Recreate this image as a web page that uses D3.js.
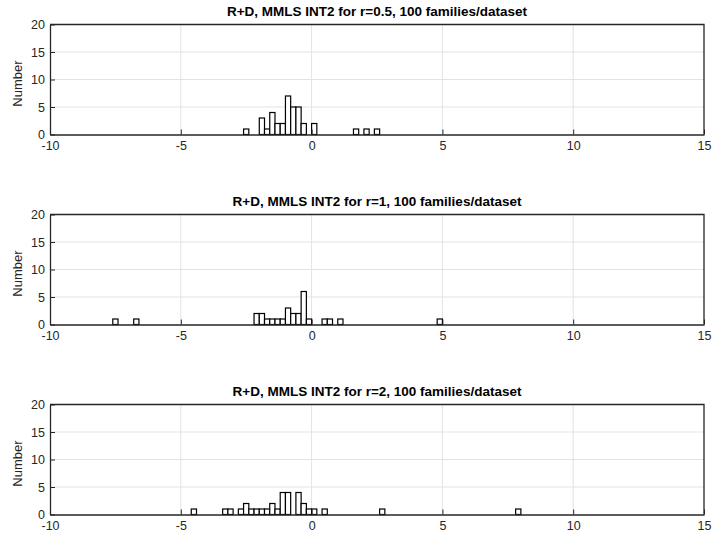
<!DOCTYPE html>
<html>
<head>
<meta charset="utf-8">
<script src="https://cdn.jsdelivr.net/npm/d3@7"></script>
<style>
  body { margin: 0; background: #fff; }
  svg { display: block; font-family: "Liberation Sans", Helvetica, Arial, sans-serif; }
</style>
</head>
<body>
<div id="chart"></div>
<script>
// bin width of every histogram
const binWidth = 0.2;

// left edges of non-empty bins, and their counts
const titles = [
  "R+D, MMLS INT2 for r=0.5, 100 families/dataset",
  "R+D, MMLS INT2 for r=1, 100 families/dataset",
  "R+D, MMLS INT2 for r=2, 100 families/dataset"
];
const edges1 = [-2.6, -2.0, -1.8, -1.6, -1.4, -1.2, -1.0, -0.8, -0.6, -0.4, 0.0, 1.6, 2.0, 2.4];
const counts1 = [1, 3, 1, 4, 2, 2, 7, 5, 5, 2, 2, 1, 1, 1];
const edges2 = [-7.6, -6.8, -2.2, -2.0, -1.8, -1.6, -1.4, -1.2, -1.0, -0.8, -0.6, -0.4, -0.2, 0.4, 0.6, 1.0, 4.8];
const counts2 = [1, 1, 2, 2, 1, 1, 1, 1, 3, 2, 2, 6, 1, 1, 1, 1, 1];
const edges3 = [-4.6, -3.4, -3.2, -2.8, -2.6, -2.4, -2.2, -2.0, -1.8, -1.6, -1.4, -1.2, -1.0, -0.6, -0.4, -0.2, 0.0, 0.4, 2.6, 7.8];
const counts3 = [1, 1, 1, 1, 2, 1, 1, 1, 1, 2, 1, 4, 4, 4, 2, 1, 1, 1, 1, 1];

const xTicks = [-10, -5, 0, 5, 10, 15];
const yTicks = [0, 5, 10, 15, 20];

const panels = [
  {title: titles[0], edges: edges1, counts: counts1},
  {title: titles[1], edges: edges2, counts: counts2},
  {title: titles[2], edges: edges3, counts: counts3}
];

const width = 713, height = 535;
const left = 50, plotW = 654, plotH = 110;
const tops = [24.5, 214.5, 404.5];
const axisColor = "#262626";

const svg = d3.select("#chart").append("svg")
  .attr("width", width)
  .attr("height", height);

const x = d3.scaleLinear().domain([-10, 15]).range([0, plotW]);
const y = d3.scaleLinear().domain([0, 20]).range([plotH, 0]);

panels.forEach(function (p, i) {
  const g = svg.append("g")
    .attr("transform", "translate(" + left + "," + tops[i] + ")");

  // grid
  g.append("g").selectAll("line.vx")
    .data(xTicks.slice(1, -1)).enter()
    .append("line")
    .attr("x1", d => x(d)).attr("x2", d => x(d))
    .attr("y1", 0).attr("y2", plotH)
    .attr("stroke", "#e3e3e3").attr("stroke-width", 1);
  g.append("g").selectAll("line.hy")
    .data(yTicks.slice(1, -1)).enter()
    .append("line")
    .attr("x1", 0).attr("x2", plotW)
    .attr("y1", d => y(d)).attr("y2", d => y(d))
    .attr("stroke", "#e3e3e3").attr("stroke-width", 1);

  // bars
  const data = p.edges.map((e, k) => ({x0: e, n: p.counts[k]}));
  g.append("g").selectAll("rect")
    .data(data).enter()
    .append("rect")
    .attr("x", d => x(d.x0))
    .attr("width", d => x(d.x0 + binWidth) - x(d.x0))
    .attr("y", d => y(d.n))
    .attr("height", d => y(0) - y(d.n))
    .attr("fill", "#fff")
    .attr("stroke", "#000")
    .attr("stroke-width", 1.2);

  // axes, ticks pointing inward, plain hyphen minus like the original
  const fmt = d => String(d);
  const xAxis = g.append("g")
    .attr("transform", "translate(0," + plotH + ")")
    .call(d3.axisBottom(x).tickValues(xTicks).tickFormat(fmt).tickSizeInner(-5).tickSizeOuter(0).tickPadding(7));
  const yAxis = g.append("g")
    .call(d3.axisLeft(y).tickValues(yTicks).tickFormat(fmt).tickSizeInner(-5).tickSizeOuter(0).tickPadding(5));
  [xAxis, yAxis].forEach(function (a) {
    a.select(".domain").attr("stroke", axisColor).attr("stroke-width", 1.3);
    a.selectAll(".tick line").attr("stroke", axisColor).attr("stroke-width", 1);
    a.selectAll(".tick text")
      .attr("fill", axisColor)
      .style("font-size", "12.5px")
      .style("font-family", "'Liberation Sans', Helvetica, Arial, sans-serif");
  });
  xAxis.selectAll(".tick text").attr("dy", "0.71em");

  // top and right of the box
  g.append("path")
    .attr("d", "M0,0H" + plotW + "V" + plotH)
    .attr("fill", "none")
    .attr("stroke", axisColor)
    .attr("stroke-width", 1.3);

  g.append("text")
    .attr("x", plotW / 2)
    .attr("y", -9)
    .attr("text-anchor", "middle")
    .style("font-size", "13.5px")
    .style("font-weight", "bold")
    .attr("fill", "#000")
    .text(p.title);

  g.append("text")
    .attr("transform", "translate(-28," + (plotH / 2 + 4) + ") rotate(-90)")
    .attr("text-anchor", "middle")
    .style("font-size", "13px")
    .attr("fill", axisColor)
    .text("Number");
});
</script>
</body>
</html>
